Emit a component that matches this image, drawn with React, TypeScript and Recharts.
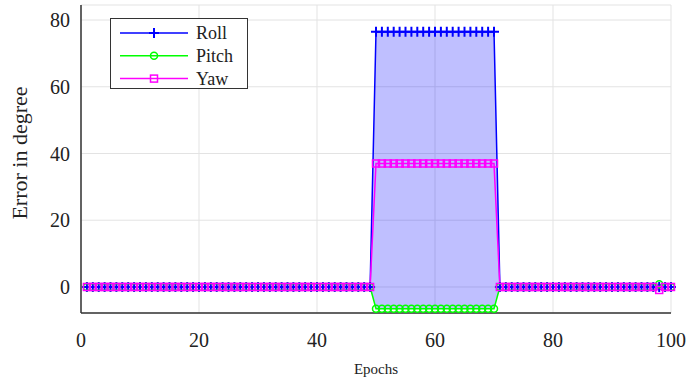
import {
  ComposedChart,
  Line,
  Area,
  XAxis,
  YAxis,
  CartesianGrid,
  Legend,
} from 'recharts';

// epochs 1..100
const epochs = [
  1, 2, 3, 4, 5, 6, 7, 8, 9, 10,
  11, 12, 13, 14, 15, 16, 17, 18, 19, 20,
  21, 22, 23, 24, 25, 26, 27, 28, 29, 30,
  31, 32, 33, 34, 35, 36, 37, 38, 39, 40,
  41, 42, 43, 44, 45, 46, 47, 48, 49, 50,
  51, 52, 53, 54, 55, 56, 57, 58, 59, 60,
  61, 62, 63, 64, 65, 66, 67, 68, 69, 70,
  71, 72, 73, 74, 75, 76, 77, 78, 79, 80,
  81, 82, 83, 84, 85, 86, 87, 88, 89, 90,
  91, 92, 93, 94, 95, 96, 97, 98, 99, 100,
];

const roll = [
  0, 0, 0, 0, 0, 0, 0, 0, 0, 0,
  0, 0, 0, 0, 0, 0, 0, 0, 0, 0,
  0, 0, 0, 0, 0, 0, 0, 0, 0, 0,
  0, 0, 0, 0, 0, 0, 0, 0, 0, 0,
  0, 0, 0, 0, 0, 0, 0, 0, 0, 76.5,
  76.5, 76.5, 76.5, 76.5, 76.5, 76.5, 76.5, 76.5, 76.5, 76.5,
  76.5, 76.5, 76.5, 76.5, 76.5, 76.5, 76.5, 76.5, 76.5, 76.5,
  0, 0, 0, 0, 0, 0, 0, 0, 0, 0,
  0, 0, 0, 0, 0, 0, 0, 0, 0, 0,
  0, 0, 0, 0, 0, 0, 0, 0, 0, 0,
];

const pitch = [
  0, 0, 0, 0, 0, 0, 0, 0, 0, 0,
  0, 0, 0, 0, 0, 0, 0, 0, 0, 0,
  0, 0, 0, 0, 0, 0, 0, 0, 0, 0,
  0, 0, 0, 0, 0, 0, 0, 0, 0, 0,
  0, 0, 0, 0, 0, 0, 0, 0, 0, -6.5,
  -6.5, -6.5, -6.5, -6.5, -6.5, -6.5, -6.5, -6.5, -6.5, -6.5,
  -6.5, -6.5, -6.5, -6.5, -6.5, -6.5, -6.5, -6.5, -6.5, -6.5,
  0, 0, 0, 0, 0, 0, 0, 0, 0, 0,
  0, 0, 0, 0, 0, 0, 0, 0, 0, 0,
  0, 0, 0, 0, 0, 0, 0, 0.8, 0, 0,
];

const yaw = [
  0, 0, 0, 0, 0, 0, 0, 0, 0, 0,
  0, 0, 0, 0, 0, 0, 0, 0, 0, 0,
  0, 0, 0, 0, 0, 0, 0, 0, 0, 0,
  0, 0, 0, 0, 0, 0, 0, 0, 0, 0,
  0, 0, 0, 0, 0, 0, 0, 0, 0, 37,
  37, 37, 37, 37, 37, 37, 37, 37, 37, 37,
  37, 37, 37, 37, 37, 37, 37, 37, 37, 37,
  0, 0, 0, 0, 0, 0, 0, 0, 0, 0,
  0, 0, 0, 0, 0, 0, 0, 0, 0, 0,
  0, 0, 0, 0, 0, 0, 0, -0.9, 0, 0,
];

const xTicks = [0, 20, 40, 60, 80, 100];
const yTicks = [0, 20, 40, 60, 80];

const BLUE = '#0000ff';
const GREEN = '#00ff00';
const MAGENTA = '#ff00ff';
const FONT = "'Liberation Serif', serif";

const data = epochs.map((e, i) => ({
  epoch: e,
  roll: roll[i],
  pitch: pitch[i],
  yaw: yaw[i],
  band: [pitch[i], roll[i]],
}));

// marker shapes
const plus = (cx: number, cy: number, key?: any) => (
  <path
    key={key}
    d={`M${cx - 5},${cy}H${cx + 5}M${cx},${cy - 5}V${cy + 5}`}
    stroke={BLUE}
    strokeWidth={2}
    fill="none"
  />
);
const circle = (cx: number, cy: number, key?: any) => (
  <circle key={key} cx={cx} cy={cy} r={3.5} stroke={GREEN} strokeWidth={1.5} fill="none" />
);
const square = (cx: number, cy: number, key?: any) => (
  <rect key={key} x={cx - 3.5} y={cy - 3.5} width={7} height={7} stroke={MAGENTA} strokeWidth={1.5} fill="none" />
);

const dotFn = (shape: (cx: number, cy: number, key?: any) => any) => (p: any) => {
  if (p.cx == null || p.cy == null) return <g key={p.index} />;
  return shape(p.cx, p.cy, p.index);
};

const legendItems = [
  { name: 'Roll', color: BLUE, shape: plus },
  { name: 'Pitch', color: GREEN, shape: circle },
  { name: 'Yaw', color: MAGENTA, shape: square },
];

// legend drawn as one small svg so the text uses the same serif face as the axes
const LegendBox = () => (
  <svg width={138} height={71} style={{ display: 'block' }}>
    <rect x={0.5} y={0.5} width={137} height={70} fill="#fff" stroke="#333" strokeWidth={1} />
    {legendItems.map((it, i) => {
      const y = 15 + i * 22.8;
      return (
        <g key={it.name}>
          <line x1={10} y1={y} x2={78} y2={y} stroke={it.color} strokeWidth={1.5} />
          {it.shape(44, y)}
          <text x={86} y={y} dy="0.33em" fontFamily={FONT} fontSize={18} fill="#222">
            {it.name}
          </text>
        </g>
      );
    })}
  </svg>
);

const App = () => {
  return (
    <div style={{ position: 'absolute', left: 0, top: 0, width: 689, height: 383, background: '#fff' }}>
      <ComposedChart
        width={689}
        height={383}
        data={data}
        margin={{ top: 5, right: 18, left: 0, bottom: 0 }}
      >
        <CartesianGrid stroke="#e3e3e3" strokeWidth={1} vertical horizontal />
        <XAxis
          type="number"
          dataKey="epoch"
          domain={[0, 100]}
          ticks={xTicks}
          height={70}
          axisLine={{ stroke: '#333', strokeWidth: 1.5 }}
          tickLine={false}
          tickMargin={14}
          tick={{ fill: '#222', fontSize: 20, fontFamily: FONT }}
          label={{
            value: 'Epochs',
            position: 'insideBottom',
            offset: 9,
            style: { fill: '#222', fontSize: 15, fontFamily: FONT },
          }}
        />
        <YAxis
          type="number"
          domain={[-7.8, 84.5]}
          ticks={yTicks}
          width={81}
          allowDataOverflow
          axisLine={{ stroke: '#333', strokeWidth: 1.5 }}
          tickLine={false}
          tickMargin={5}
          tick={{ fill: '#222', fontSize: 20, fontFamily: FONT }}
          label={{
            value: 'Error in degree',
            angle: -90,
            position: 'insideLeft',
            offset: 19,
            dy: -6,
            style: { fill: '#222', fontSize: 22, fontFamily: FONT, textAnchor: 'middle' },
          }}
        />
        <Legend
          layout="vertical"
          align="center"
          verticalAlign="middle"
          content={<LegendBox />}
          wrapperStyle={{ position: 'absolute', left: 110, top: 18, width: 138, height: 71 }}
        />
        <Area
          type="linear"
          dataKey="band"
          stroke="none"
          fill={BLUE}
          fillOpacity={0.25}
          isAnimationActive={false}
          legendType="none"
        />
        <Line
          type="linear"
          dataKey="roll"
          name="Roll"
          stroke={BLUE}
          strokeWidth={1.5}
          dot={dotFn(plus)}
          activeDot={false}
          isAnimationActive={false}
        />
        <Line
          type="linear"
          dataKey="pitch"
          name="Pitch"
          stroke={GREEN}
          strokeWidth={1.5}
          dot={dotFn(circle)}
          activeDot={false}
          isAnimationActive={false}
        />
        <Line
          type="linear"
          dataKey="yaw"
          name="Yaw"
          stroke={MAGENTA}
          strokeWidth={1.5}
          dot={dotFn(square)}
          activeDot={false}
          isAnimationActive={false}
        />
      </ComposedChart>
    </div>
  );
};

export default App;
